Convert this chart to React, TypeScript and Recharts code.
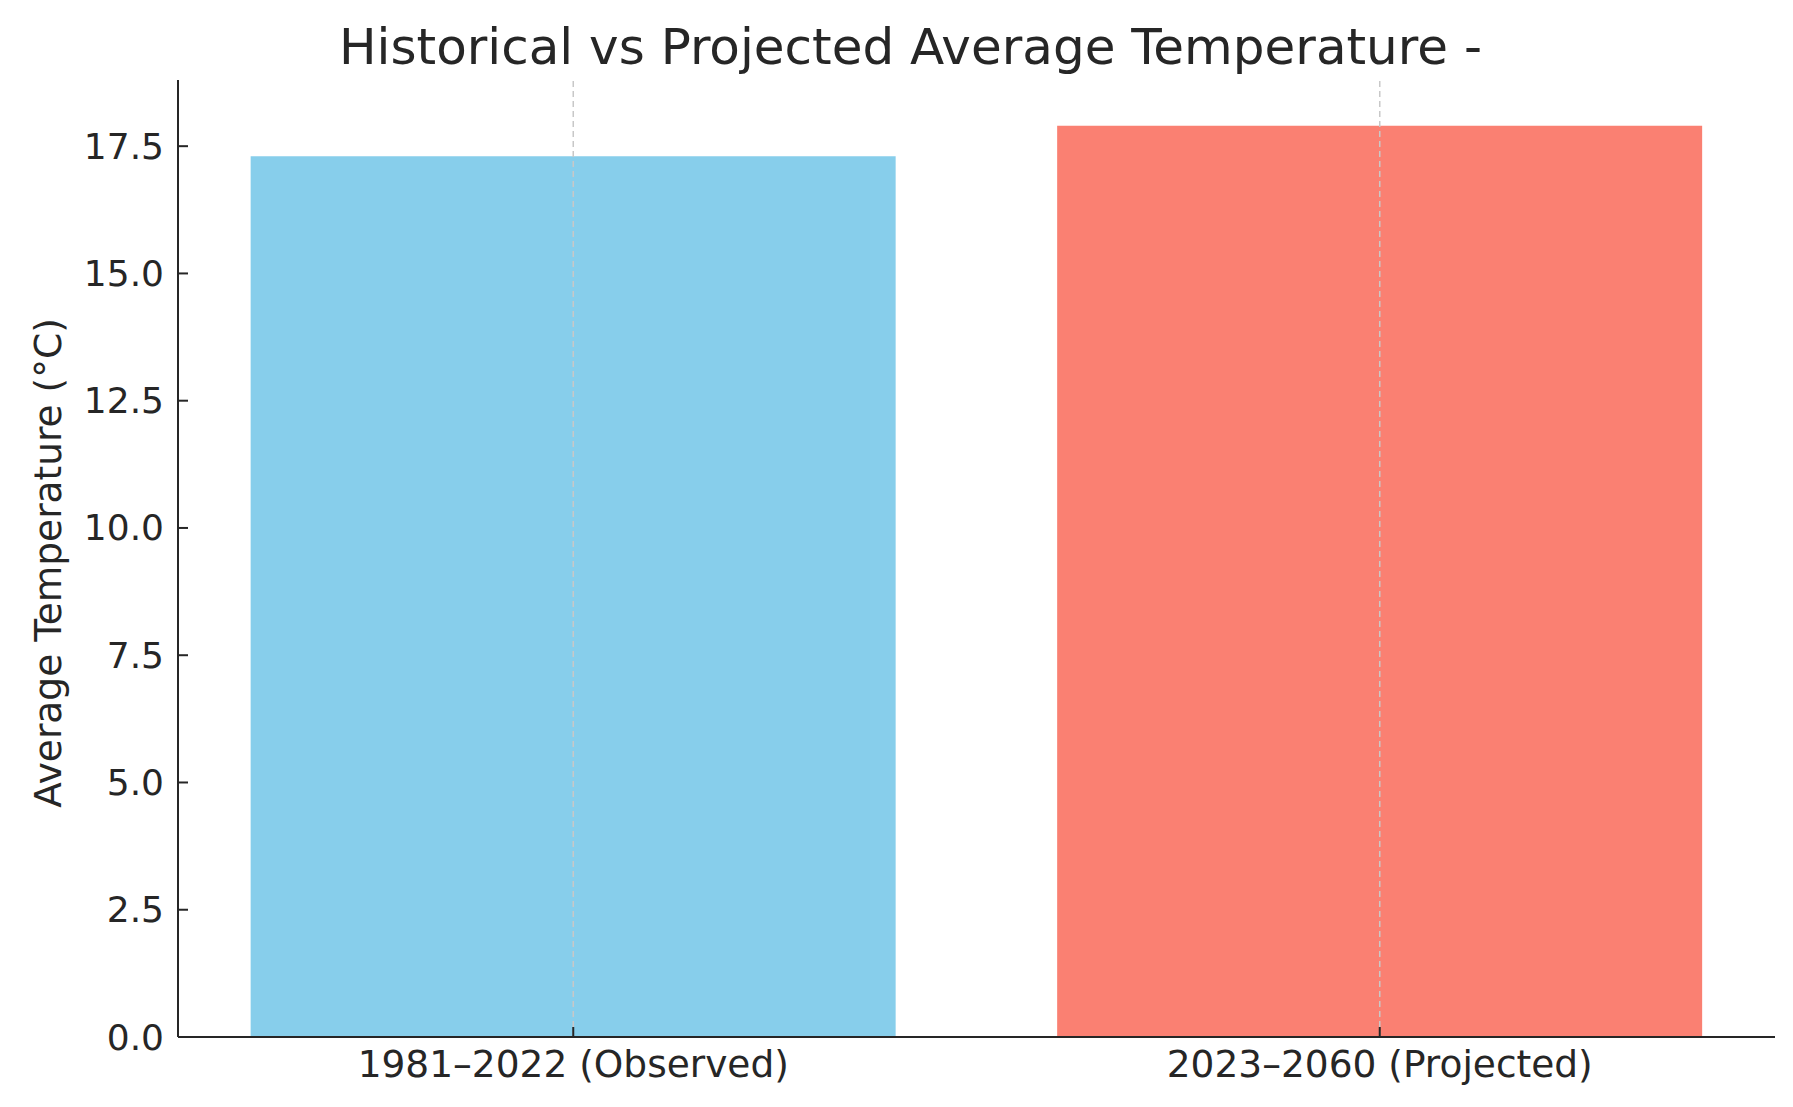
import React from 'react';
import { BarChart, Bar, XAxis, YAxis, Cell, ReferenceLine } from 'recharts';

const categories = ['1981–2022 (Observed)', '2023–2060 (Projected)'];
const temperatures = [17.3, 17.9];
const barColors = ['#87CEEB', '#FA8072'];
const yTicks = [0, 2.5, 5, 7.5, 10, 12.5, 15, 17.5];
const titleText = 'Historical vs Projected Average Temperature -';
const yLabelText = 'Average Temperature (°C)';

const data = categories.map((c, i) => ({ period: c, value: temperatures[i] }));

const FONT = '"DejaVu Sans", sans-serif';
const TEXT = '#262626';

const YTick = (props: any) => {
  const { x, y, payload } = props;
  return (
    <g>
      <text x={x} y={y} textAnchor="end" dominantBaseline="central" fontFamily={FONT} fontSize={36} fill={TEXT}>
        {Number(payload.value).toFixed(1)}
      </text>
      <line x1={x + 14} x2={x + 24} y1={y} y2={y} stroke="#262626" strokeWidth={2} />
    </g>
  );
};

const XTick = (props: any) => {
  const { x, y, payload } = props;
  return (
    <g>
      <text x={x} y={y + 32} textAnchor="middle" fontFamily={FONT} fontSize={37.5} fill={TEXT}>
        {payload.value}
      </text>
      <line x1={x} x2={x} y1={y - 8} y2={y - 18} stroke="#262626" strokeWidth={2} />
    </g>
  );
};

export default function App() {
  return (
    <div style={{ position: 'absolute', left: 0, top: 0, width: 1793, height: 1107, background: '#fff' }}>
      <div
        style={{
          position: 'absolute',
          left: 339,
          top: 17,
          fontFamily: FONT,
          fontSize: 50,
          color: TEXT,
          whiteSpace: 'nowrap',
          lineHeight: '60px',
        }}
      >
        {titleText}
      </div>
      <BarChart
        width={1793}
        height={1107}
        data={data}
        margin={{ top: 80, right: 18, bottom: 0, left: 0 }}
        barCategoryGap="10%"
      >
        <XAxis
          dataKey="period"
          height={70}
          tickSize={0}
          tickMargin={8}
          tick={<XTick />}
          axisLine={{ stroke: '#262626', strokeWidth: 2 }}
          tickLine={false}
          padding={{ left: -8, right: -8 }}
        />
        <YAxis
          width={178}
          domain={[0, 18.8]}
          ticks={yTicks}
          tickSize={0}
          tickMargin={14}
          tick={<YTick />}
          axisLine={{ stroke: '#262626', strokeWidth: 2 }}
          tickLine={false}
          allowDataOverflow
          label={{
            content: () => (
              <text
                x={48}
                y={563}
                transform="rotate(-90 48 563)"
                textAnchor="middle"
                dominantBaseline="central"
                fontFamily={FONT}
                fontSize={37.5}
                fill={TEXT}
              >
                {yLabelText}
              </text>
            ),
          }}
        />
        <Bar dataKey="value" isAnimationActive={false}>
          {data.map((d, i) => (
            <Cell key={d.period} fill={barColors[i]} />
          ))}
        </Bar>
        {categories.map((c) => (
          <ReferenceLine key={c} x={c} stroke="#c8c8c8" strokeDasharray="6 4" strokeWidth={1.5} />
        ))}
      </BarChart>
    </div>
  );
}
